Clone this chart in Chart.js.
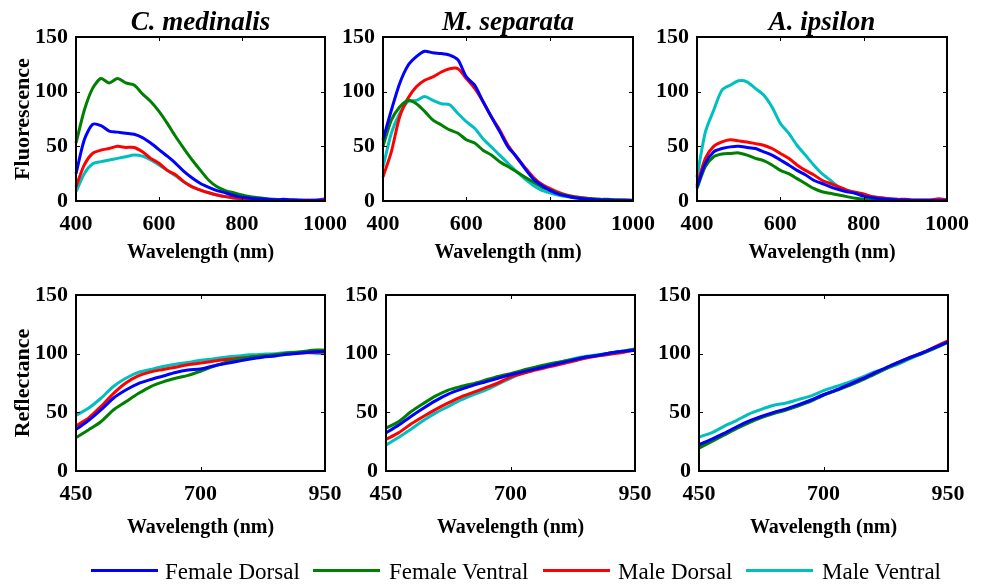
<!DOCTYPE html>
<html>
<head>
<meta charset="utf-8">
<script src="https://cdn.jsdelivr.net/npm/chart.js@4.4.1/dist/chart.umd.min.js"></script>
<style>
  html, body { margin: 0; padding: 0; background: #ffffff; }
  #wrap { position: relative; width: 982px; height: 585px; overflow: hidden; background: #ffffff; }
  #wrap canvas { position: absolute; left: 0; top: 0; }
  .lg-line { position: absolute; height: 3px; top: 569px; width: 67px; }
  .lg-text { position: absolute; top: 559px; font-family: "Liberation Serif", "Times New Roman", serif; font-size: 23px; line-height: 26px; color: #000; white-space: nowrap; }
</style>
</head>
<body>
<div id="wrap">
  <canvas id="c1" width="982" height="585"></canvas>
  <canvas id="c2" width="982" height="585"></canvas>
  <canvas id="c3" width="982" height="585"></canvas>
  <canvas id="c4" width="982" height="585"></canvas>
  <canvas id="c5" width="982" height="585"></canvas>
  <canvas id="c6" width="982" height="585"></canvas>
  <div class="lg-line" style="left:91px;background:#0000ff"></div>
  <div class="lg-text" style="left:165px">Female Dorsal</div>
  <div class="lg-line" style="left:313px;background:#008000"></div>
  <div class="lg-text" style="left:389px">Female Ventral</div>
  <div class="lg-line" style="left:543px;background:#ff0000"></div>
  <div class="lg-text" style="left:618px">Male Dorsal</div>
  <div class="lg-line" style="left:746px;background:#00bfbf"></div>
  <div class="lg-text" style="left:822px">Male Ventral</div>
</div>
<script>
// ---------- data ----------
const SPECIES = ["C. medinalis", "M. separata", "A. ipsilon"];
const SERIES_NAMES = ["Female Dorsal", "Female Ventral", "Male Dorsal", "Male Ventral"];
const X_TICKS_FLUOR = [400, 600, 800, 1000];
const X_TICKS_REFL = [450, 700, 950];
const Y_TICKS = [0, 50, 100, 150];

const WL_FLUOR = [400,420,440,460,480,500,520,540,560,580,600,620,640,660,680,700,720,740,760,780,800,820,840,860,880,900,920,940,960,980,1000];
const WL_REFL = [450,475,500,525,550,575,600,625,650,675,700,725,750,775,800,825,850,875,900,925,950];

// C. medinalis fluorescence
const CM_F_FD = [25,56,70,69,64,63,62,61,58,53,47,41,34.5,27,21,16,12.5,9.5,7.5,5,3.5,2.5,2,1.5,1,1.5,1,1,0.5,1,0.5];
const CM_F_FV = [53,83,103,112,108,112,108,106,98,91,82,71,59,48,37.5,28,19,13,9.5,7.5,5.5,4,3,2,1.5,1,1,0.5,0.5,0.5,0.5];
const CM_F_MD = [13,33,43.5,46.5,48,50,49,49,45,39,34.5,28,24,17.5,13,10,7.5,5.5,4,3,2,1.5,1,1,0.5,0.5,1,0.5,1,0.5,2];
const CM_F_MV = [8.5,25,34,36,37.5,39,40.5,42,41,37.5,33,28,23,17.5,13,10,7.5,5.5,4,2.5,2,1.5,1,1,0.5,0.5,0.5,0.5,0.5,0.5,0.5];
// M. separata fluorescence
const MS_F_FD = [56,83,107.5,124,132,137,135.5,135,133.5,129,113.5,106,91,77,63.5,49.5,40.5,30,20.5,14.5,10,6.5,4.5,3,2,1.5,1,1,0.5,0.5,0.5];
const MS_F_FV = [50,74,86,92,89,82,74,69.5,65,62,56,53,46.5,42,36,31.5,27,22,17.5,13,10,7,5,3.5,2.5,2,1.5,1.5,1,1,0.5];
const MS_F_MD = [22,45,77,94,104.5,110.5,113.5,118,121,121,112,103,91,77,65,51,40.5,31,22,15.5,11.5,8,5.5,4,3,2,1.5,1,1,1,0.5];
const MS_F_MV = [31,62,80,91,92,95.5,92,89,88,80,72.5,66.5,57,49.5,42,34.5,27,20.5,14.5,10,7.5,5.5,4,3,2,1.5,1,1,1,0.5,0.5];
// A. ipsilon fluorescence
const AI_F_FD = [13,34.5,45,48,49.5,50,49,48,45,42,37.5,33,28,24,19,16,13,10.5,8.5,7,4.5,3,2,1.5,1,1,0.5,0.5,0.5,0.5,0.5];
const AI_F_FV = [11.5,31.5,40.5,43,43.5,44,42,39,37,33,28,25,20.5,16,11.5,8.5,7,5.5,4,2.5,1.5,1,0.5,0.5,0.5,0.5,0.5,0.5,0.5,0.5,0.5];
const AI_F_MD = [14.5,39,50,54,56,55,54,52.5,51,48,43.5,39,33,28,24,19,16,13,10,8,6.5,4,3,2,1.5,1.5,1,1,1,2,1];
const AI_F_MV = [22,63,83,101.5,106,110,109,103,97,86,71,62,51,42,33,25,19,13,9.5,7,5.5,4,3,2,1.5,1,1,1,1,0.5,0.5];

// C. medinalis reflectance
const CM_R_FD = [35.5,43,52,62,69,74.5,78,81,84,86,87,89.5,91.5,93.5,95.5,97,98,99.5,100.5,101.5,102];
const CM_R_FV = [28.5,35,42,52,59,66,72,76,79,81.5,85,89,92.5,95,97,98,99,100.5,101.5,103,103];
const CM_R_MD = [38.5,45,55,66,75,81,84.5,86.5,88.5,90.5,92,93.5,95,96,97,98,99,100,100.5,101,101.5];
const CM_R_MV = [47.5,53.5,62,72,79,84,86.5,89,91,92.5,94.5,95.5,97,98,99,99.5,100,101,101.5,100.5,100];
// M. separata reflectance
const MS_R_FD = [32.5,39,46.5,53.5,60,65.5,69.5,73,76,79,82,84.5,87,89.5,92,94.5,97,98.5,100.5,102,103];
const MS_R_FV = [36.5,42,50.5,57.5,64,69,72,74.5,77.5,80.5,83,86,88.5,91,93,95,97,98.5,100.5,102,104];
const MS_R_MD = [27,32.5,40,46.5,52.5,58,63,67,71,75,80,83,86,88.5,91,93.5,96,98,99.5,101,103];
const MS_R_MV = [22,28.5,35.5,43,49.5,55,60.5,65,69,74,79,84,87,90,93,95.5,97.5,99,100.5,102,104];
// A. ipsilon reflectance
const AI_R_FD = [22.5,27,32,37.5,42.5,46.5,50,53,56.5,60.5,65,69,73.5,78,83,88,92.5,97,101,105.5,110];
const AI_R_FV = [19.5,25,30.5,36,41,45.5,49,52,55.5,59.5,64.5,68.5,72.5,77,82,87,92,96.5,100.5,105,110];
const AI_R_MD = [22,26.5,31.5,37,42,46,49.5,52.5,56,60,65,69,73.5,78,83,87.5,92.5,97,101,106,111];
const AI_R_MV = [29,32.5,38,43,48.5,52.5,56,58,61,64,68.5,72,75.5,79.5,84,87.5,91,96,100.5,105,109.5];

// ---------- styles ----------
const COLORS = ["#0000ff", "#008000", "#ff0000", "#00bfbf"];
const SERIF = '"Liberation Serif", "Times New Roman", serif';
const W = 982, H = 585;

function pts(xs, ys) { return xs.map((x, i) => ({ x: x, y: ys[i] })); }

const boxPlugin = {
  id: 'boxPlugin',
  afterDatasetsDraw(chart, args, opts) {
    const ctx = chart.ctx, a = chart.chartArea;
    const xs = chart.scales.x, ys = chart.scales.y;
    ctx.save();
    ctx.strokeStyle = '#000';
    ctx.lineWidth = 1;
    const tl = 4;
    ctx.beginPath();
    opts.xTicks.forEach(v => {
      const p = Math.round(xs.getPixelForValue(v)) + 0.5;
      ctx.moveTo(p, a.bottom); ctx.lineTo(p, a.bottom - tl);
      ctx.moveTo(p, a.top); ctx.lineTo(p, a.top + tl);
    });
    Y_TICKS.forEach(v => {
      const p = Math.round(ys.getPixelForValue(v)) + 0.5;
      ctx.moveTo(a.left, p); ctx.lineTo(a.left + tl, p);
      ctx.moveTo(a.right, p); ctx.lineTo(a.right - tl, p);
    });
    ctx.stroke();
    ctx.lineWidth = 2;
    ctx.strokeRect(a.left, a.top, a.right - a.left, a.bottom - a.top);
    if (opts.title) {
      ctx.fillStyle = '#000';
      ctx.font = 'italic bold 27px ' + SERIF;
      ctx.textAlign = 'center';
      ctx.textBaseline = 'middle';
      ctx.fillText(opts.title, (a.left + a.right) / 2, a.top - 14);
    }
    ctx.restore();
  }
};

function makePanel(id, box, wl, series, xMin, xMax, xStep, xTicks, yTitle, title, xTitleOffset) {
  const yW = yTitle ? box.L : 60;
  const xH = xTitleOffset + 11;
  const datasets = series.map((s, i) => ({
    label: SERIES_NAMES[i],
    data: pts(wl, s),
    borderColor: COLORS[i],
    backgroundColor: COLORS[i],
    borderWidth: 3,
    pointRadius: 0,
    tension: 0.25,
    clip: false
  }));
  new Chart(document.getElementById(id), {
    type: 'line',
    data: { datasets: datasets },
    options: {
      responsive: false,
      animation: false,
      events: [],
      layout: { padding: { left: box.L - yW, top: box.T, right: W - box.R, bottom: H - box.B - xH } },
      plugins: {
        legend: { display: false },
        tooltip: { enabled: false },
        boxPlugin: { xTicks: xTicks, title: title }
      },
      scales: {
        x: {
          type: 'linear', min: xMin, max: xMax,
          afterFit: s => { s.height = xH; },
          grid: { display: false, drawTicks: false },
          border: { display: false },
          ticks: { stepSize: xStep, autoSkip: false, maxRotation: 0, padding: 12, color: '#000',
                   callback: v => String(v),
                   font: { family: SERIF, size: 22, weight: 'bold', lineHeight: 1 } },
          title: { display: true, text: 'Wavelength (nm)', color: '#000', padding: { top: 0, bottom: -1 },
                   font: { family: SERIF, size: 20, weight: 'bold', lineHeight: 1 } }
        },
        y: {
          type: 'linear', min: 0, max: 150,
          afterFit: s => { s.width = yW; },
          grid: { display: false, drawTicks: false },
          border: { display: false },
          ticks: { stepSize: 50, autoSkip: false, padding: 8, color: '#000',
                   callback: v => String(v),
                   font: { family: SERIF, size: 22, weight: 'bold', lineHeight: 1 } },
          title: { display: !!yTitle, text: yTitle || '', color: '#000', padding: { top: 12, bottom: 0 },
                   font: { family: SERIF, size: 22, weight: 'bold', lineHeight: 1 } }
        }
      }
    },
    plugins: [boxPlugin]
  });
}

makePanel('c1', {L:76, T:37, R:325, B:201}, WL_FLUOR, [CM_F_FD, CM_F_FV, CM_F_MD, CM_F_MV], 400, 1000, 200, X_TICKS_FLUOR, 'Fluorescence', SPECIES[0], 50);
makePanel('c2', {L:383, T:37, R:633, B:201}, WL_FLUOR, [MS_F_FD, MS_F_FV, MS_F_MD, MS_F_MV], 400, 1000, 200, X_TICKS_FLUOR, null, SPECIES[1], 50);
makePanel('c3', {L:697, T:37, R:947, B:201}, WL_FLUOR, [AI_F_FD, AI_F_FV, AI_F_MD, AI_F_MV], 400, 1000, 200, X_TICKS_FLUOR, null, SPECIES[2], 50);
makePanel('c4', {L:76, T:295, R:325, B:471}, WL_REFL, [CM_R_FD, CM_R_FV, CM_R_MD, CM_R_MV], 450, 950, 250, X_TICKS_REFL, 'Reflectance', null, 55);
makePanel('c5', {L:386, T:295, R:635, B:471}, WL_REFL, [MS_R_FD, MS_R_FV, MS_R_MD, MS_R_MV], 450, 950, 250, X_TICKS_REFL, null, null, 55);
makePanel('c6', {L:699, T:295, R:948, B:471}, WL_REFL, [AI_R_FD, AI_R_FV, AI_R_MD, AI_R_MV], 450, 950, 250, X_TICKS_REFL, null, null, 55);
</script>
</body>
</html>
